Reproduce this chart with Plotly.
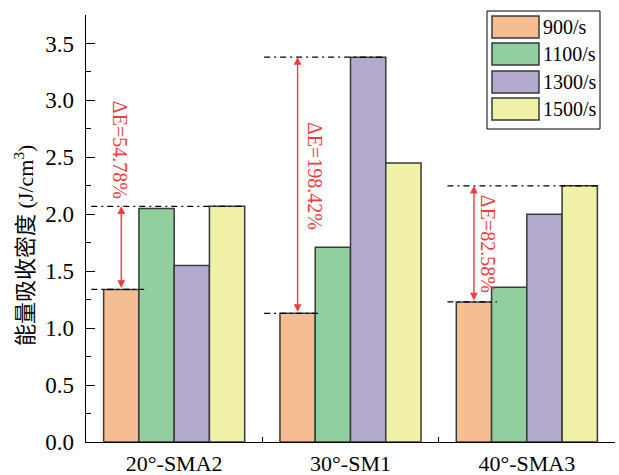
import plotly.graph_objects as go

categories = ["20°-SMA2", "30°-SM1", "40°-SMA3"]
series_names = ["900/s", "1100/s", "1300/s", "1500/s"]
s900 = [1.34, 1.13, 1.23]
s1100 = [2.05, 1.71, 1.36]
s1300 = [1.55, 3.38, 2.00]
s1500 = [2.07, 2.45, 2.25]
delta_labels = ["ΔE=54.78%", "ΔE=198.42%", "ΔE=82.58%"]
y_ticks = [0.0, 0.5, 1.0, 1.5, 2.0, 2.5, 3.0, 3.5]

colors = ["#F5BD92", "#92CF9E", "#B3A9CC", "#F0F0A6"]
edge = "#3A3A3A"
red = "#F03C3C"
FONT = "Liberation Serif, Times New Roman, Noto Sans CJK SC, serif"

W, H = 619, 475
L, R, T, B = 86, 615, 15, 442

def px(xp):
    return (xp - L) / (R - L)

def py(yp):
    return (B - yp) / (B - T)

fig = go.Figure()
all_series = [s900, s1100, s1300, s1500]
for name, vals, c in zip(series_names, all_series, colors):
    fig.add_trace(go.Bar(
        x=categories, y=vals, name=name,
        marker=dict(color=c, line=dict(color=edge, width=1.5)),
        showlegend=False,
    ))

shapes = []
annotations = []
bw = 0.2
dash = "6px,4px,2px,4px"
line_start = [-0.47, 0.51, 1.55]
for i in range(len(categories)):
    vals = [s[i] for s in all_series]
    low = vals[0]
    high = max(vals)
    jmax = vals.index(high)
    right_edge = i - 0.4 + bw * (jmax + 1)
    xa = i - 0.3
    shapes.append(dict(type="line", xref="x", yref="y", x0=line_start[i], x1=right_edge,
                       y0=high, y1=high, line=dict(color="black", width=1.2, dash=dash)))
    shapes.append(dict(type="line", xref="x", yref="y", x0=line_start[i], x1=i - 0.2 + 0.03,
                       y0=low, y1=low, line=dict(color="black", width=1.2, dash=dash)))
    annotations.append(dict(x=xa, y=high, ax=xa, ay=low, xref="x", yref="y",
                            axref="x", ayref="y", text="", showarrow=True,
                            arrowside="end+start", arrowhead=2, startarrowhead=2,
                            arrowsize=1.1, startarrowsize=1.1, arrowwidth=1.4,
                            arrowcolor=red, standoff=0, startstandoff=0))

text_pos = [(-0.31, s1500[0] + 0.50), (0.80, (s900[1] + s1300[1]) / 2 + 0.08),
            (1.78, (s900[2] + s1500[2]) / 2)]
for (tx, ty), lab in zip(text_pos, delta_labels):
    annotations.append(dict(x=tx, y=ty, xref="x", yref="y", text=lab, showarrow=False,
                            xanchor="center", yanchor="middle",
                            textangle=90, font=dict(family=FONT, size=20, color=red)))

annotations.append(dict(x=px(24), y=py(246), xref="paper", yref="paper",
                        xanchor="center", yanchor="middle",
                        text="能量吸收密度 (J/cm<sup>3</sup>)", textangle=-90, showarrow=False,
                        font=dict(family=FONT, size=22, color="black")))

lx0, lx1, ly0, ly1 = 487, 600, 11, 129
shapes.append(dict(type="rect", xref="paper", yref="paper", x0=px(lx0), x1=px(lx1),
                   y0=py(ly1), y1=py(ly0), line=dict(color="black", width=1),
                   fillcolor="white", layer="above"))
row_top = [16, 43, 71, 98]
for k, (name, c) in enumerate(zip(series_names, colors)):
    t = row_top[k]
    shapes.append(dict(type="rect", xref="paper", yref="paper", x0=px(492), x1=px(539),
                       y0=py(t + 22), y1=py(t), line=dict(color=edge, width=1.5),
                       fillcolor=c, layer="above"))
    annotations.append(dict(x=px(541), y=py(t + 11), xref="paper", yref="paper",
                            text=name, showarrow=False, xanchor="left", yanchor="middle",
                            font=dict(family=FONT, size=20, color="black")))

fig.update_layout(
    width=W, height=H,
    margin=dict(l=L, r=W - R, t=T, b=H - B, autoexpand=False),
    plot_bgcolor="white", paper_bgcolor="white",
    barmode="group", bargap=0.2, bargroupgap=0,
    shapes=shapes, annotations=annotations,
    font=dict(family=FONT, size=22, color="black"),
    xaxis=dict(type="category", showline=True, linecolor="black", linewidth=1.3,
               ticks="inside", ticklen=5, tickcolor="black", tickson="boundaries",
               showgrid=False, zeroline=False, range=[-0.5, 2.5],
               ticklabelstandoff=1, automargin=False,
               tickfont=dict(family=FONT, size=22, color="black")),
    yaxis=dict(range=[0, 3.75], showline=True, linecolor="black", linewidth=1.3,
               ticks="inside", ticklen=9, tickcolor="black", tickvals=y_ticks,
               tickformat=".1f", showgrid=False, zeroline=False,
               ticklabelstandoff=6, automargin=False,
               minor=dict(dtick=0.25, ticks="inside", ticklen=5, tickcolor="black"),
               tickfont=dict(family=FONT, size=23, color="black")),
)

fig.write_html("out.html", config={"displayModeBar": False, "staticPlot": True},
               post_script="document.body.style.margin='0';document.body.style.overflow='hidden';")
